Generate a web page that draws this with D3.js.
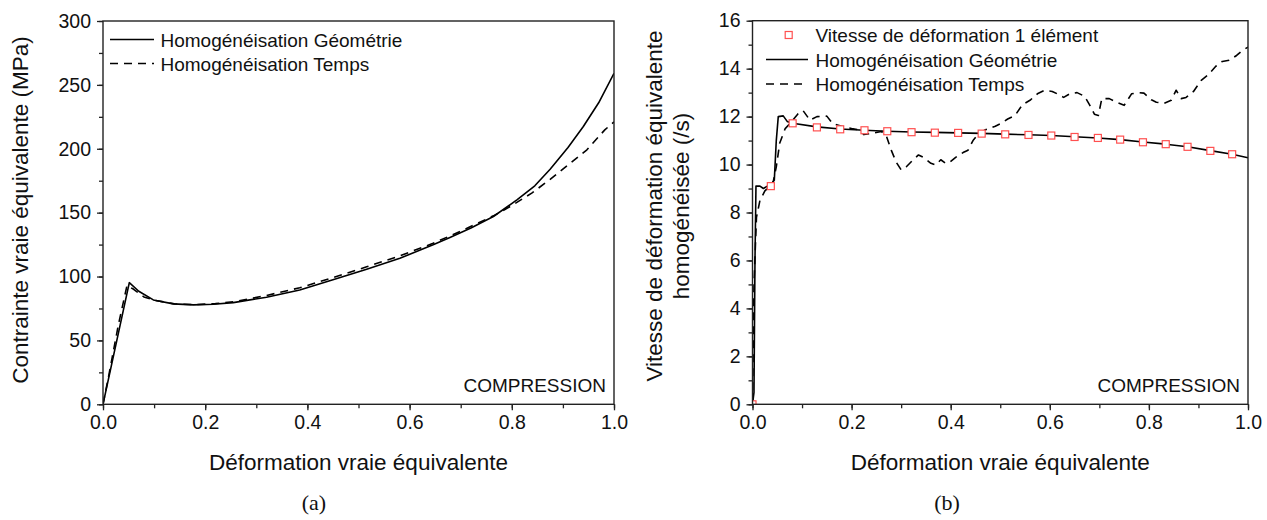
<!DOCTYPE html>
<html><head><meta charset="utf-8">
<script src="https://cdn.jsdelivr.net/npm/d3@7"></script>
<style>
html,body{margin:0;padding:0;background:#fff;}
text{font-family:"Liberation Sans",Arial,sans-serif;fill:#111;}
.cap{font-family:"Liberation Serif","DejaVu Serif",serif;}
</style></head>
<body><svg id="chart" width="1267" height="520"></svg>
<script>
// ---------- data ----------
const xTicks = [0, 0.2, 0.4, 0.6, 0.8, 1.0];
const xTickLabels = ["0.0", "0.2", "0.4", "0.6", "0.8", "1.0"];
const stressTicks = [0, 50, 100, 150, 200, 250, 300];
const rateTicks = [0, 2, 4, 6, 8, 10, 12, 14, 16];

// (a) stress vs strain
const stressGeometrie = [
  [0,0],[0.0515,95.2],[0.07,88.5],[0.0985,81.7],[0.1376,78.6],[0.177,77.8],[0.216,78.3],
  [0.255,79.6],[0.32,83.8],[0.385,89.5],[0.45,97.4],[0.516,105.7],[0.581,114.3],[0.646,124.8],
  [0.679,130.5],[0.72,138],[0.764,147],[0.81,160],[0.845,171],[0.875,184],[0.91,201],
  [0.94,217.4],[0.97,236],[1.0,259]
];
const stressTemps = [
  [0,0],[0.012,24],[0.03,62],[0.047,93],[0.06,90],[0.08,84],[0.1,81.5],[0.14,78.6],
  [0.18,78],[0.22,78.8],[0.26,80.5],[0.32,85.2],[0.385,91.2],[0.45,99.2],[0.516,107.6],
  [0.581,116.2],[0.646,126],[0.7,135.5],[0.764,147.5],[0.8,155.5],[0.839,165.3],
  [0.875,176],[0.906,186.1],[0.947,199.2],[0.982,214.8],[1.0,221]
];

// (b) strain rate vs strain
const rateElement = [
  [0,0],[0.037,9.1],[0.081,11.72],[0.130,11.55],[0.177,11.47],[0.226,11.43],[0.272,11.39],
  [0.321,11.35],[0.368,11.33],[0.415,11.32],[0.4625,11.29],[0.51,11.26],[0.557,11.235],
  [0.603,11.21],[0.65,11.15],[0.697,11.11],[0.742,11.04],[0.788,10.93],[0.834,10.85],
  [0.878,10.74],[0.924,10.57],[0.968,10.43]
];
const rateGeometrie = [
  [0,0],[0.003,0.5],[0.005,6],[0.007,9.1],[0.015,9.1],[0.022,9.0],[0.03,9.1],[0.037,9.15],
  [0.044,9.35],[0.048,11],[0.052,12.0],[0.062,12.03],[0.07,11.8],[0.081,11.72],[0.130,11.57],
  [0.177,11.48],[0.226,11.43],[0.272,11.39],[0.321,11.36],[0.368,11.34],[0.415,11.32],
  [0.4625,11.3],[0.51,11.27],[0.557,11.24],[0.603,11.21],[0.65,11.16],[0.697,11.11],
  [0.742,11.04],[0.788,10.94],[0.834,10.85],[0.878,10.74],[0.924,10.58],[0.968,10.43],[1.0,10.28]
];
const rateTemps = [
  [0,0],[0.003,5],[0.008,7.8],[0.015,8.5],[0.025,8.9],[0.035,9.1],[0.042,9.3],[0.048,9.9],
  [0.055,10.9],[0.066,11.5],[0.075,11.7],[0.092,12.12],[0.102,12.25],[0.116,11.85],[0.13,12.0],
  [0.15,12.02],[0.162,11.7],[0.18,11.6],[0.2,11.5],[0.215,11.45],[0.225,11.25],[0.24,11.3],
  [0.26,11.38],[0.27,11.2],[0.28,10.6],[0.29,10.1],[0.3,9.78],[0.31,9.9],[0.322,10.15],
  [0.335,10.4],[0.345,10.3],[0.36,10.05],[0.37,9.98],[0.38,10.2],[0.39,10.05],[0.398,10.1],
  [0.41,10.3],[0.425,10.5],[0.435,10.6],[0.445,11.0],[0.455,11.25],[0.47,11.45],[0.49,11.6],
  [0.5,11.7],[0.515,11.9],[0.53,12.05],[0.545,12.5],[0.56,12.68],[0.575,12.95],[0.59,13.1],
  [0.605,13.05],[0.615,12.95],[0.628,12.8],[0.64,12.95],[0.655,13.0],[0.67,12.85],[0.68,12.5],
  [0.69,12.1],[0.698,12.05],[0.705,12.75],[0.72,12.75],[0.735,12.6],[0.75,12.47],[0.765,12.95],
  [0.78,13.0],[0.79,12.98],[0.805,12.7],[0.815,12.6],[0.83,12.55],[0.845,12.68],[0.855,13.1],
  [0.865,12.75],[0.875,12.8],[0.89,13.05],[0.905,13.5],[0.92,13.75],[0.935,14.1],[0.948,14.3],
  [0.962,14.35],[0.977,14.55],[0.988,14.75],[1.0,14.9]
];

const legendA = ["Homogénéisation Géométrie", "Homogénéisation Temps"];
const legendB = ["Vitesse de déformation 1 élément", "Homogénéisation Géométrie", "Homogénéisation Temps"];

// ---------- drawing ----------
const svg = d3.select("#chart");
const TICK_FONT = 19.5, TITLE_FONT = 22.5, LEG_FONT = 19;
const DASH = "8,6";
const MARK = "#ff5050";

function panel(o) {
  const x = d3.scaleLinear().domain([0, 1]).range([o.x0, o.x1]);
  const y = d3.scaleLinear().domain(o.yDomain).range([o.yBot, o.yTop]);
  const g = svg.append("g");
  const clipId = "clip" + o.id;
  svg.append("clipPath").attr("id", clipId).append("rect")
    .attr("x", o.x0).attr("y", o.yTop).attr("width", o.x1 - o.x0).attr("height", o.yBot - o.yTop);
  const line = d3.line().x(d => x(d[0])).y(d => y(d[1]));
  const plot = g.append("g").attr("clip-path", `url(#${clipId})`);
  o.series.forEach(s => {
    plot.append("path").attr("d", line(s.data)).attr("fill", "none")
      .attr("stroke", "#000").attr("stroke-width", 1.6)
      .attr("stroke-dasharray", s.dash ? DASH : null).attr("stroke-linejoin", "round");
  });
  if (o.markers) {
    plot.append("g").selectAll("rect").data(o.markers).join("rect")
      .attr("x", d => x(d[0]) - 3.5).attr("y", d => y(d[1]) - 3.5)
      .attr("width", 7).attr("height", 7).attr("fill", "#fff")
      .attr("stroke", MARK).attr("stroke-width", 1.2);
  }
  // axes
  const xMinor = d3.range(0, 1.0001, 0.1);
  const xAxis = d3.axisBottom(x).tickValues(xMinor).tickSize(4).tickFormat("");
  const xa = g.append("g").attr("transform", `translate(0,${o.yBot})`).call(xAxis);
  xa.selectAll(".tick line").attr("stroke", "#222").attr("stroke-width", 1.3);
  const xAxisMaj = d3.axisBottom(x).tickValues(xTicks).tickSize(6)
    .tickFormat((d, i) => xTickLabels[i]).tickPadding(5);
  const xm = g.append("g").attr("transform", `translate(0,${o.yBot})`).call(xAxisMaj);
  xm.selectAll(".tick line").attr("stroke", "#222").attr("stroke-width", 1.3);
  xm.selectAll("text").attr("font-size", TICK_FONT).attr("fill", "#111")
    .attr("font-family", '"Liberation Sans",Arial,sans-serif');
  [xa, xm].forEach(a => a.select(".domain").remove());

  const yAxisMin = d3.axisLeft(y).tickValues(o.yMinor).tickSize(4).tickFormat("");
  const ya = g.append("g").attr("transform", `translate(${o.x0},0)`).call(yAxisMin);
  ya.selectAll(".tick line").attr("stroke", "#222").attr("stroke-width", 1.3);
  const yAxisMaj = d3.axisLeft(y).tickValues(o.yTicks).tickSize(6).tickPadding(6).tickFormat(d3.format("d"));
  const ym = g.append("g").attr("transform", `translate(${o.x0},0)`).call(yAxisMaj);
  ym.selectAll(".tick line").attr("stroke", "#222").attr("stroke-width", 1.3);
  ym.selectAll("text").attr("font-size", TICK_FONT).attr("fill", "#111")
    .attr("font-family", '"Liberation Sans",Arial,sans-serif');
  [ya, ym].forEach(a => a.select(".domain").remove());

  g.append("rect").attr("x", o.x0).attr("y", o.yTop).attr("width", o.x1 - o.x0)
    .attr("height", o.yBot - o.yTop).attr("fill", "none").attr("stroke", "#222").attr("stroke-width", 1.4);

  g.append("text").attr("x", o.x1 - 8).attr("y", o.yBot - 12).attr("text-anchor", "end")
    .attr("font-size", LEG_FONT).text("COMPRESSION");

  g.append("text").attr("x", (o.x0 + o.x1) / 2).attr("y", 470).attr("text-anchor", "middle")
    .attr("font-size", TITLE_FONT).text("Déformation vraie équivalente");

  o.yTitle.forEach((t, i) => {
    g.append("text").attr("transform", `translate(${o.yTitleX[i]},${o.yTitleY}) rotate(-90)`)
      .attr("text-anchor", "middle").attr("font-size", TITLE_FONT).text(t);
  });

  g.append("text").attr("class", "cap").attr("x", o.capX).attr("y", 510)
    .attr("text-anchor", "middle").attr("font-size", 22).text(o.caption);

  // legend
  o.legend.forEach((it, i) => {
    const ly = o.legY + i * o.legStep;
    if (it.type === "marker") {
      g.append("rect").attr("x", o.legMarkX - 3.5).attr("y", ly - 3.5).attr("width", 7).attr("height", 7)
        .attr("fill", "#fff").attr("stroke", MARK).attr("stroke-width", 1.2);
    } else {
      g.append("line").attr("x1", o.legLineX0).attr("x2", o.legLineX1).attr("y1", ly).attr("y2", ly)
        .attr("stroke", "#000").attr("stroke-width", 1.6).attr("stroke-dasharray", it.dash ? DASH : null);
    }
    g.append("text").attr("x", o.legTextX).attr("y", ly + 7).attr("font-size", LEG_FONT).text(it.label);
  });
}

panel({
  id: "a", x0: 103, x1: 614, yTop: 21, yBot: 404.3, yDomain: [0, 300],
  yTicks: stressTicks, yMinor: d3.range(0, 301, 25),
  series: [{ data: stressGeometrie, dash: false }, { data: stressTemps, dash: true }],
  yTitle: ["Contrainte vraie équivalente (MPa)"], yTitleX: [28], yTitleY: 210,
  caption: "(a)", capX: 314,
  legend: [{ label: legendA[0], dash: false }, { label: legendA[1], dash: true }],
  legY: 39.5, legStep: 24, legLineX0: 110, legLineX1: 154, legTextX: 160.5
});

panel({
  id: "b", x0: 752.5, x1: 1248, yTop: 20.7, yBot: 404.3, yDomain: [0, 16],
  yTicks: rateTicks, yMinor: d3.range(0, 16.01, 1),
  series: [{ data: rateGeometrie, dash: false }, { data: rateTemps, dash: true }],
  markers: rateElement,
  yTitle: ["Vitesse de déformation équivalente", "homogénéisée (/s)"], yTitleX: [662, 689], yTitleY: 206,
  caption: "(b)", capX: 947,
  legend: [{ label: legendB[0], type: "marker" }, { label: legendB[1], dash: false }, { label: legendB[2], dash: true }],
  legY: 35, legStep: 24.5, legMarkX: 788.7, legLineX0: 766, legLineX1: 808, legTextX: 815.5
});
</script></body></html>
